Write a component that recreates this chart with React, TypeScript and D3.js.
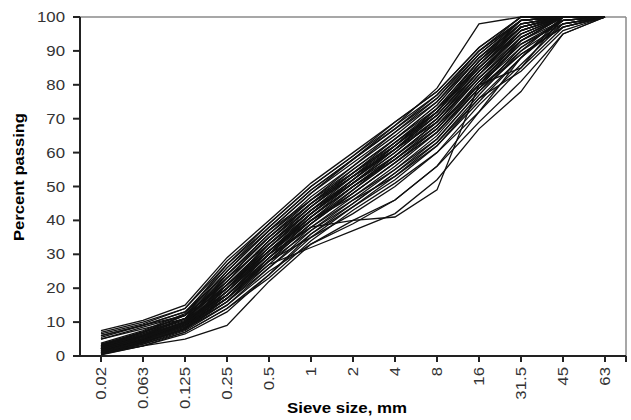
import React from "react";
import * as d3 from "d3";

const sieveSizes = ["0.02","0.063","0.125","0.25","0.5","1","2","4","8","16","31.5","45","63"];
const yTicks = [0,10,20,30,40,50,60,70,80,90,100];

// Each row = one grading curve (percent passing at each sieve size)
const curves: number[][] = [
  [7.5,10.5,15,29,40,51,60,69,78,91,100,100,100],
  [7,10,14,28,39,50,59,68,77,90,99,100,100],
  [6.5,9.5,14,27,38,49,58,67,76,89,99,100,100],
  [6,9,13,26,37,48,57,66,75,88,98,100,100],
  [5.5,9,13,24,36,46,55,64,73,87,98,100,100],
  [5,8.5,12,22,34,45,54,63,72,86,97,100,100],
  [6,9,12,20,31,42,52,61,71,85,97,100,100],
  [5,8,11,18,29,40,50,59,69,83,96,100,100],
  [3,7,12,25,37,48,58,68,79,98,100,100,100],
  [2,6,10,20,30,38,40,41,49,80,85,100,100],
  [1,3,5,9,22,33,40,46,56,72,88,99,100],
  [1,4,8,16,27,32,37,42,52,67,78,95,100],
  [1.5,4,8,15,25,33,39,46,56,69,81,95,100],
  [2,5,9,17,28,35,42,50,60,72,85,97,100],
  [0.5,3,7,14,24,36,44,52,62,75,88,100,100],
  [3,7,11,21,33,44,53,62,72,86,97,100,100],
  [2.5,6,10,20,32,43,52,61,71,85,96,100,100],
  [2,6,10,19,31,42,51,60,70,84,96,100,100],
  [1.5,5,9,18,30,41,50,59,69,83,95,100,100],
  [1,4.5,9,17,29,40,49,58,68,82,94,100,100],
  [3.5,7,11,22,34,45,55,64,74,88,98,100,100],
  [0.8,4,8,16,28,39,48,57,67,81,93,100,100],
  [2.8,6.5,10.5,23,35,46,56,65,75,89,99,100,100],
  [1.2,5,9,21,33,43,51,59,68,80,92,99,100],
  [3,6,10,24,36,47,56,66,76,90,100,100,100],
  [2,5.5,9.5,19,30,40,47,55,64,78,91,99,100],
  [0.5,3.5,7.5,15,26,37,46,55,65,79,93,100,100],
  [2.2,6,11,25,37,46,54,62,71,84,95,100,100],
  [1.8,5,9,17,27,38,47,56,66,80,94,100,100],
  [3.2,7,12,26,38,49,58,67,77,90,99,100,100],
  [0.3,3,6.5,13,24,35,44,53,63,77,90,100,100],
  [2.6,6,10,20,31,41,50,58,67,81,92,98,100],
  [1,4,8,18,30,41,51,61,72,87,99,100,100],
  [2.4,5.5,10,22,34,44,53,61,70,83,94,100,100],
  [1.6,5,9.5,20,32,43,53,63,73,87,97,100,100],
  [3,6.5,11,21,31,40,48,57,66,79,89,97,100],
  [0.7,3.5,7,14,23,34,43,51,60,74,86,98,100],
  [2,5,9,19,30,42,52,62,73,85,96,100,100],
  [1.4,4.5,8.5,17,28,37,45,54,63,76,88,98,100],
  [2,5,9,18,29,38,46,53,62,76,84,96,100],
  [3.8,7.5,12.5,27,39,50,59,69,78,91,100,100,100],
  [2.1,5.8,10.2,23,35,45,54,63,72,85,97,100,100],
  [1.3,4.6,9,20,33,44,54,64,74,88,99,100,100],
  [0.9,4.2,8.2,19,31,41,50,58,67,80,91,99,100],
  [2.7,6.2,11,24,35,45,53,61,69,82,93,100,100],
  [1.7,5.2,9.8,21,32,42,51,60,70,84,95,100,100],
  [0.6,3.8,7.8,17,29,39,48,57,66,79,90,98,100],
  [3.4,7.2,12,23,33,43,52,62,72,86,98,100,100],
  [2.3,5.6,9.6,18,28,39,49,59,69,82,93,99,100],
  [1.1,4.4,8.6,16,26,36,45,54,64,78,89,97,100],
];

const W = 631, H = 420;
const left = 80, right = 626, top = 17, bottom = 356;
const font = "'Liberation Sans', Arial, sans-serif";

export default function App() {
  const x = d3.scalePoint<string>().domain(sieveSizes).range([left, right]).padding(0.5);
  const y = d3.scaleLinear().domain([0, 100]).range([bottom, top]);
  const line = d3.line<number>()
    .x((_, i) => x(sieveSizes[i]) as number)
    .y((d) => y(d));

  return (
    <svg width={W} height={H} style={{ position: "absolute", left: 0, top: 0, background: "#fff" }} fontFamily={font}>
      <rect x={0} y={0} width={W} height={H} fill="#fff" />
      {/* frame top/right */}
      <line x1={left} x2={right} y1={top} y2={top} stroke="#8a8a8a" strokeWidth={1.5} />
      <line x1={right} x2={right} y1={top} y2={bottom + 5} stroke="#8a8a8a" strokeWidth={1.5} />
      {/* curves */}
      <g fill="none" stroke="#111" strokeWidth={1.3} strokeLinejoin="miter">
        {curves.map((c, i) => (
          <path key={i} d={line(c) as string} />
        ))}
      </g>
      {/* y axis */}
      <line x1={left} x2={left} y1={top} y2={bottom} stroke="#222" strokeWidth={2} />
      {yTicks.map((t) => (
        <g key={t}>
          <line x1={left - 7} x2={left} y1={y(t)} y2={y(t)} stroke="#222" strokeWidth={2} />
          <text
            transform={`translate(${left - 15},${y(t)}) scale(1.2,1)`}
            textAnchor="end"
            dy="0.36em"
            fontSize={14}
            fill="#333"
          >
            {t}
          </text>
        </g>
      ))}
      {/* x axis */}
      <line x1={left - 7} x2={right} y1={bottom} y2={bottom} stroke="#222" strokeWidth={2} />
      {sieveSizes.map((s) => (
        <g key={s}>
          <line x1={x(s)} x2={x(s)} y1={bottom} y2={bottom + 6} stroke="#222" strokeWidth={2} />
          <text
            transform={`translate(${x(s)},${bottom + 11}) rotate(-90) scale(1.2,1)`}
            textAnchor="end"
            dy="0.36em"
            fontSize={14}
            fill="#333"
          >
            {s}
          </text>
        </g>
      ))}
      <line x1={right} x2={right} y1={bottom} y2={bottom + 6} stroke="#222" strokeWidth={2} />
      {/* axis titles */}
      <text
        x={(left + right) / 2 - 6}
        y={413}
        textAnchor="middle"
        fontSize={15}
        fontWeight="bold"
        textLength={120}
        lengthAdjust="spacingAndGlyphs"
        fill="#000"
      >
        Sieve size, mm
      </text>
      <text
        transform={`translate(24,${177}) rotate(-90)`}
        textAnchor="middle"
        fontSize={15}
        fontWeight="bold"
        textLength={128}
        lengthAdjust="spacingAndGlyphs"
        fill="#000"
      >
        Percent passing
      </text>
    </svg>
  );
}
